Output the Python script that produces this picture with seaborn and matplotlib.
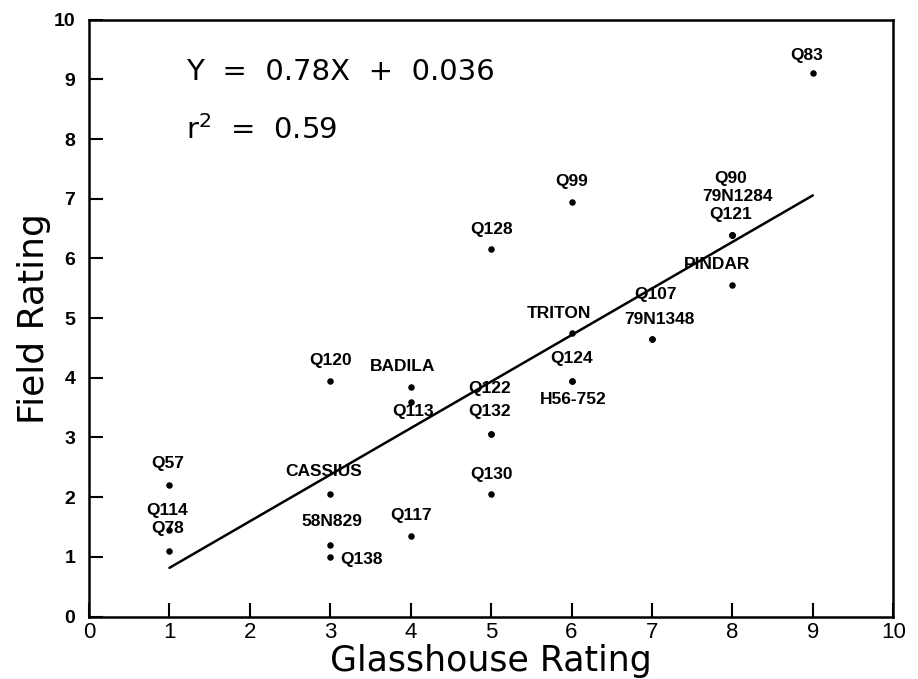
import matplotlib
matplotlib.use("Agg")
import matplotlib.pyplot as plt
import seaborn as sns
import pandas as pd
import numpy as np

# ---- data ----
names = ["Q83", "Q99", "Q128", "Q90", "79N1284", "Q121", "PINDAR", "Q107",
         "79N1348", "TRITON", "Q124", "H56-752", "Q120", "BADILA", "Q113",
         "Q122", "Q132", "Q130", "CASSIUS", "Q57", "Q114", "Q78", "58N829",
         "Q138", "Q117"]
glasshouse = [9, 6, 5, 8, 8, 8, 8, 7, 7, 6, 6, 6, 3, 4, 4, 5, 5, 5, 3, 1, 1, 1, 3, 3, 4]
field = [9.1, 6.95, 6.15, 6.4, 6.4, 6.4, 5.55, 4.65, 4.65, 4.75, 3.95, 3.95,
         3.95, 3.85, 3.6, 3.05, 3.05, 2.05, 2.05, 2.2, 1.45, 1.1, 1.2, 1.0, 1.35]
slope, intercept = 0.78, 0.036
fit_x = [1, 9]
x_ticks = list(range(0, 11))
y_ticks = list(range(0, 11))

# label offsets in pixels (dx, dy) relative to each point
offsets = {
    "Q83": (-6, 18), "Q99": (0, 20), "Q128": (0, 20), "Q90": (-2, 56),
    "79N1284": (5, 38), "Q121": (-2, 20), "PINDAR": (-15, 21), "Q107": (4, 45),
    "79N1348": (7, 20), "TRITON": (-13, 20), "Q124": (0, 22), "H56-752": (2, -19),
    "Q120": (0, 20), "BADILA": (-8, 20), "Q113": (2, -10), "Q122": (-2, 46),
    "Q132": (-2, 23), "Q130": (0, 20), "CASSIUS": (-7, 23), "Q57": (-2, 22),
    "Q114": (-2, 19), "Q78": (-2, 22), "58N829": (2, 23), "Q138": (10, -3),
    "Q117": (0, 20),
}

df = pd.DataFrame({"name": names, "glass": glasshouse, "field": field})
fit_df = pd.DataFrame({"x": fit_x, "y": [slope * v + intercept for v in fit_x]})

sns.set_theme(style="white")
plt.rcParams["font.family"] = ["DejaVu Sans"]
narrow = ["Liberation Sans Narrow", "Liberation Sans", "DejaVu Sans"]

fig = plt.figure(figsize=(9.18, 6.79), dpi=100)
ax = fig.add_axes([0.097, 0.092, 0.876, 0.879])

sns.lineplot(data=fit_df, x="x", y="y", ax=ax, color="black", linewidth=1.8)
sns.scatterplot(data=df, x="glass", y="field", ax=ax, color="black", s=22,
                edgecolor="black", linewidth=0, zorder=3)

for n, gx, fy in zip(names, glasshouse, field):
    dx, dy = offsets[n]
    ha = "left" if n == "Q138" else "center"
    ax.annotate(n, (gx, fy), xytext=(dx, dy), textcoords="offset pixels",
                ha=ha, va="center", fontsize=12.5, fontweight="bold",
                family=narrow, color="black")

ax.text(1.2, 9.12, "Y  =  0.78X  +  0.036", fontsize=21, color="black",
        va="center", ha="left")
ax.text(1.2, 8.15, r"r$^2$  =  0.59", fontsize=21, color="black",
        va="center", ha="left")

ax.set_xlim(0, 10)
ax.set_ylim(0, 10)
ax.set_xticks(x_ticks)
ax.set_yticks(y_ticks)
ax.set_xticklabels([str(t) for t in x_ticks], family=narrow, fontsize=16)
ax.set_yticklabels([str(t) for t in y_ticks], family=narrow, fontsize=14,
                   fontweight="bold")
ax.tick_params(axis="both", direction="in", length=10, width=1.5,
               color="black", labelcolor="black")
ax.tick_params(axis="x", pad=4, bottom=True, top=False)
ax.tick_params(axis="y", pad=10, left=True, right=False)
for s in ax.spines.values():
    s.set_visible(True)
    s.set_color("black")
    s.set_linewidth(1.8)

ax.set_xlabel("Glasshouse Rating", fontsize=25, color="black", labelpad=1)
ax.set_ylabel("Field Rating", fontsize=26, color="black", labelpad=2)

fig.savefig("out.png", dpi=100, facecolor="white")
